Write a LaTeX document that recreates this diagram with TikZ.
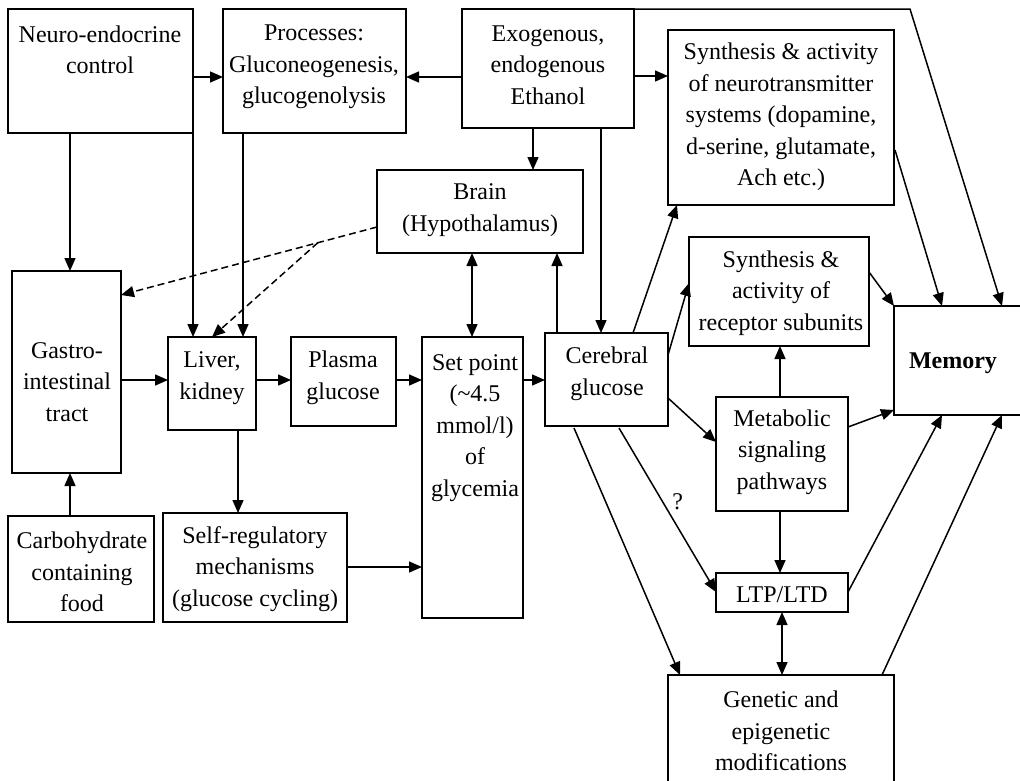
\documentclass[tikz,border=0pt]{standalone}
\usepackage{fontspec}
\setmainfont{Liberation Serif}
\usetikzlibrary{arrows.meta,calc}
\begin{document}
\begin{tikzpicture}[x=1pt,y=-1pt,
  box/.style={draw,line width=1.6pt,inner sep=0pt,outer sep=0pt,anchor=north west},
  txt/.style={align=center,inner sep=0pt,font=\fontsize{24}{31.5}\selectfont},
  arr/.style={line width=1.5pt,-{Triangle[length=13pt,width=11pt]}},
  darr/.style={arr,dash pattern=on 7pt off 4pt},
  barr/.style={line width=1.5pt,{Triangle[length=13pt,width=11pt]}-{Triangle[length=13pt,width=11pt]}}]
\useasboundingbox (0,0) rectangle (1020,780);

% boxes
\node[box,minimum width=185pt,minimum height=124pt] (neuro) at (8,9) {};
\node[box,minimum width=183pt,minimum height=124pt] (proc) at (223,9) {};
\node[box,minimum width=172pt,minimum height=119pt] (exo) at (462,9) {};
\node[box,minimum width=226pt,minimum height=175pt] (nt) at (668,30) {};
\node[box,minimum width=206pt,minimum height=83pt] (brain) at (377,170) {};
\node[box,minimum width=109pt,minimum height=202pt] (gastro) at (12,271) {};
\node[box,minimum width=88pt,minimum height=93pt] (liver) at (168,337) {};
\node[box,minimum width=105pt,minimum height=89pt] (plasma) at (291,337) {};
\node[box,minimum width=101pt,minimum height=281pt] (setpt) at (422,337) {};
\node[box,minimum width=123pt,minimum height=93pt] (cereb) at (545,333) {};
\node[box,minimum width=180pt,minimum height=109pt] (receptor) at (689,237) {};
\node[box,minimum width=132pt,minimum height=114pt] (metab) at (716,397) {};
\node[box,minimum width=132pt,minimum height=39pt] (ltp) at (716,573) {};
\node[box,minimum width=226pt,minimum height=130pt] (genetic) at (668,675) {};
\node[box,minimum width=140pt,minimum height=109pt] (memory) at (894,306) {};
\node[box,minimum width=146pt,minimum height=106pt] (carb) at (8,516) {};
\node[box,minimum width=184pt,minimum height=109pt] (selfreg) at (163,513) {};

% texts
\node[txt] (neuroT) at (100,50) {Neuro-endocrine\\control};
\node[txt] (procT) at (314,67) {Processes:\\Gluconeogenesis,\\glucogenolysis};
\node[txt] (exoT) at (548,65) {Exogenous,\\endogenous\\Ethanol};
\node[txt] (ntT) at (781,117) {Synthesis \& activity\\of neurotransmitter\\systems (dopamine,\\d-serine, glutamate,\\Ach etc.)};
\node[txt] (brainT) at (480,210) {Brain\\(Hypothalamus)};
\node[txt] (gastroT) at (67,382) {Gastro-\\intestinal\\tract};
\node[txt] (liverT) at (212,378) {Liver,\\kidney};
\node[txt] (plasmaT) at (343,378) {Plasma\\glucose};
\node[txt] (setptT) at (475,428) {Set point\\(\textasciitilde4.5\\mmol/l)\\of\\glycemia};
\node[txt] (cerebT) at (607,374) {Cerebral\\glucose};
\node[txt] (receptorT) at (781,293) {Synthesis \&\\activity of\\receptor subunits};
\node[txt] (metabT) at (782,452) {Metabolic\\signaling\\pathways};
\node[txt] (ltpT) at (782,595) {LTP/LTD};
\node[txt] (geneticT) at (781,731) {Genetic and\\epigenetic\\modifications};
\node[txt,font=\fontsize{24}{31.5}\selectfont\bfseries] (memoryT) at (953,363) {Memory};
\node[txt] (carbT) at (82,572) {Carbohydrate\\containing\\food};
\node[txt] (selfregT) at (255,569) {Self-regulatory\\mechanisms\\(glucose cycling)};

% connectors
\draw[arr] ($(neuro.north east)+(0,68)$) -- ($(proc.north west)+(0,68)$);
\draw[arr] ($(exo.north west)+(0,68)$) -- ($(proc.north east)+(0,68)$);
\draw[arr] ($(exo.north east)+(0,67)$) -- ($(nt.north west)+(0,46)$);
\draw[arr] ($(exo.south west)+(71,0)$) -- ($(brain.north west)+(156,0)$);
\draw[arr] ($(exo.south west)+(139,0)$) -- ($(cereb.north west)+(56,0)$);
\draw[arr] (exo.north east) -- ($(exo.north east)+(276,0)$) -- ($(memory.north west)+(108,0)$);
\draw[arr] ($(neuro.south west)+(62,0)$) -- ($(gastro.north west)+(58,0)$);
\draw[arr] (neuro.south east) -- ($(liver.north west)+(25,0)$);
\draw[arr] ($(proc.south west)+(20,0)$) -- ($(liver.north west)+(75,0)$);
\draw[darr] ($(brain.north west)+(0,57)$) -- node[pos=0.231,coordinate] (br) {} ($(gastro.north east)+(0,24)$);
\draw[darr] (br) -- ($(liver.north west)+(44,0)$);
\draw[arr] ($(gastro.north east)+(0,109)$) -- ($(liver.north west)+(0,43)$);
\draw[arr] ($(liver.north east)+(0,43)$) -- ($(plasma.north west)+(0,43)$);
\draw[arr] ($(plasma.north east)+(0,43)$) -- ($(setpt.north west)+(0,43)$);
\draw[arr] ($(setpt.north east)+(0,43)$) -- ($(cereb.north west)+(0,47)$);
\draw[barr] ($(brain.south west)+(95,0)$) -- ($(setpt.north west)+(50,0)$);
\draw[arr] ($(cereb.north west)+(12,0)$) -- ($(brain.south west)+(180,0)$);
\draw[arr] ($(carb.north west)+(62,0)$) -- ($(gastro.south west)+(58,0)$);
\draw[arr] ($(liver.south west)+(70,0)$) -- ($(selfreg.north west)+(75,0)$);
\draw[arr] ($(selfreg.north east)+(0,54)$) -- ($(setpt.north west)+(0,230)$);
\draw[arr] ($(cereb.north west)+(88,0)$) -- ($(nt.south west)+(9,0)$);
\draw[arr] ($(cereb.north east)+(0,22)$) -- ($(receptor.north west)+(0,46)$);
\draw[arr] ($(cereb.north east)+(0,65)$) -- ($(metab.north west)+(0,45)$);
\draw[arr] ($(metab.north west)+(64,0)$) -- ($(receptor.south west)+(91,0)$);
\draw[arr] ($(receptor.north east)+(0,35)$) -- (memory.north west);
\draw[arr] ($(nt.north east)+(1,120)$) -- ($(memory.north west)+(48,0)$);
\draw[arr] ($(metab.north east)+(0,30)$) -- ($(memory.south west)+(0,-5)$);
\draw[arr] ($(metab.south west)+(64,0)$) -- ($(ltp.north west)+(64,0)$);
\draw[barr] ($(ltp.south west)+(66,0)$) -- ($(genetic.north west)+(114,0)$);
\draw[arr] ($(ltp.north east)+(0,19)$) -- ($(memory.south west)+(48,0)$);
\draw[arr] ($(genetic.north west)+(214,0)$) -- ($(memory.south west)+(108,0)$);
\draw[arr] ($(cereb.south west)+(74,2)$) -- node[pos=0.45,xshift=15pt,txt] (q) {?} ($(ltp.north west)+(0,19)$);
\draw[arr] ($(cereb.south west)+(29,2)$) -- ($(genetic.north west)+(12,0)$);
\end{tikzpicture}
\end{document}
